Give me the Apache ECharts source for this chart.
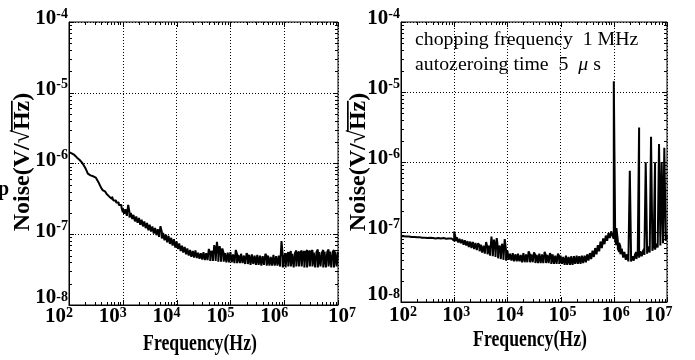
<!DOCTYPE html>
<html><head><meta charset="utf-8">
<script src="https://cdn.jsdelivr.net/npm/echarts@6/dist/echarts.min.js"></script>
<style>html,body{margin:0;padding:0;background:#fff}#c{width:695px;height:360px}</style>
</head><body><div id="c"></div>
<script>
// ---- data ----
// frequency grid: 40 points per decade (mantissas below) for decades 10^2 .. 10^6, plus 10^7
const mantissas = [1.00,1.06,1.12,1.19,1.26,1.33,1.41,1.50,1.58,1.68,1.78,1.88,2.00,2.11,2.24,2.37,2.51,2.66,2.82,2.99,
                   3.16,3.35,3.55,3.76,3.98,4.22,4.47,4.73,5.01,5.31,5.62,5.96,6.31,6.68,7.08,7.50,7.94,8.41,8.91,9.44];
const decades = [2,3,4,5,6];
const lastFreq = 1e7;
// noise envelope (lower / upper edge of the noisy trace) in units of 1e-8 V/sqrt(Hz)
const UNIT = 1e-8;
const leftLow = [
  145,142,139,136,132,126,121,118,112,106,101,95,87,80,72,69,68,67,66,65,
  63,60,54,49,45,42,40,38,37,35,34,32.5,31.5,30,29,28,27,26,25,24,
  20.5,19.5,19.0,18.2,17.8,17.3,16.6,16.4,15.8,15.2,14.8,14.5,14.0,13.6,13.4,12.9,12.4,12.2,11.9,11.4,
  11.1,10.9,10.6,10.2,10.0,9.7,9.4,9.2,8.9,8.7,8.4,8.2,8.0,7.7,7.6,7.3,7.1,6.9,6.7,6.5,
  6.4,6.2,6.0,5.8,5.7,5.5,5.4,5.2,5.1,5.0,4.9,4.8,4.7,4.7,4.6,4.6,4.5,4.5,4.4,4.4,
  4.4,4.3,4.3,4.3,4.2,4.2,4.2,4.2,4.1,4.2,4.1,4.1,4.1,4.1,4.0,4.1,4.0,4.0,4.0,4.0,
  4.0,4.0,3.9,3.9,4.0,3.9,3.9,3.9,3.8,3.9,3.8,3.8,3.9,3.8,3.8,3.7,3.8,3.8,3.7,3.7,
  3.8,3.7,3.7,3.6,3.7,3.7,3.6,3.6,3.7,3.6,3.6,3.6,3.7,3.6,3.5,3.6,3.5,3.5,3.5,3.4,
  3.3,3.4,3.5,3.5,3.4,3.5,3.5,3.4,3.5,3.5,3.4,3.5,3.4,3.5,3.5,3.4,3.5,3.4,3.4,3.5,
  3.4,3.5,3.4,3.4,3.5,3.4,3.4,3.5,3.4,3.4,3.5,3.4,3.4,3.5,3.4,3.4,3.5,3.4,3.4,3.5,
  3.6
];
const leftHigh = [
  145,142,139,136,132,126,121,118,112,106,101,95,87,80,72,69,68,67,66,65,
  63,60,54,49,45,43,42,40,39,37,36,34.5,34,32,31.5,30,29,28,27,26,
  23.5,22.8,22.5,21.8,26.0,20.5,20.0,19.5,18.8,18.5,17.8,17.5,17.0,16.5,16.0,15.8,15.2,14.8,14.4,14.0,
  13.6,13.4,12.9,12.6,12.3,11.9,11.8,11.3,13.0,10.8,10.4,10.2,9.9,9.6,9.5,9.2,8.9,8.7,8.5,8.2,
  7.9,7.6,7.4,7.1,6.9,6.7,6.6,6.4,6.3,6.1,6.0,5.9,5.8,5.7,5.9,5.6,5.5,5.7,5.4,5.5,
  5.6,5.3,5.4,5.2,6.2,5.3,5.8,5.3,7.0,5.4,7.8,5.3,6.8,5.3,6.3,5.4,5.4,5.2,5.5,5.3,
  5.6,5.3,5.2,5.4,6.0,5.2,5.1,5.3,5.3,5.1,5.0,5.2,5.4,5.0,5.1,5.0,5.2,5.0,5.0,4.9,
  5.1,5.0,5.0,4.9,4.9,5.0,5.3,4.9,5.0,4.9,4.8,4.9,5.1,4.9,4.9,4.8,5.0,4.8,8.0,4.8,
  4.8,5.4,5.0,5.6,5.2,5.8,5.3,5.6,5.4,5.9,5.3,5.7,5.5,5.9,5.4,5.8,5.5,6.0,5.5,5.9,
  5.6,6.0,5.5,5.8,5.6,6.1,5.6,5.9,5.5,6.0,5.7,6.0,5.6,6.1,5.7,5.9,5.6,6.0,5.7,5.9,
  5.6
];
const rightLow = [
  8.7,8.5,8.7,8.4,8.6,8.3,8.6,8.4,8.5,8.2,8.5,8.3,8.4,8.2,8.4,8.1,8.3,8.2,8.3,8.1,
  8.2,8.0,8.3,8.0,8.2,7.9,8.1,8.0,8.2,7.8,8.1,7.9,8.2,7.8,8.0,7.7,8.1,7.7,8.1,7.6,
  7.5,7.4,7.3,7.1,7.0,6.9,6.8,6.6,6.5,6.4,6.3,6.1,6.0,5.9,5.8,5.7,5.6,5.5,5.4,5.3,
  5.2,5.1,5.0,4.9,4.9,4.8,4.7,4.6,4.6,4.5,4.4,4.4,4.3,4.2,4.2,4.1,4.1,4.0,3.9,3.9,
  4.0,4.0,3.9,3.9,3.9,3.8,3.8,3.8,3.8,3.8,3.8,3.7,3.8,3.7,3.7,3.7,3.7,3.7,3.7,3.7,
  3.7,3.6,3.7,3.6,3.6,3.6,3.6,3.6,3.6,3.6,3.6,3.6,3.6,3.5,3.6,3.5,3.5,3.5,3.6,3.5,
  3.5,3.5,3.4,3.4,3.5,3.4,3.4,3.4,3.5,3.4,3.4,3.5,3.5,3.5,3.5,3.5,3.6,3.6,3.6,3.7,
  3.8,3.9,4.0,4.1,4.2,4.4,4.6,4.8,5.0,5.3,5.6,5.9,6.3,6.7,7.1,7.5,7.9,8.2,8.5,8.8,
  8.0,7.5,6.5,5.8,5.2,4.8,4.5,4.3,4.1,4.0,3.9,3.8,3.8,3.8,3.8,3.9,4.0,4.1,4.2,4.3,
  4.4,4.5,4.6,4.7,4.8,4.9,5.0,5.1,5.2,5.4,5.5,5.6,5.8,6.0,6.2,6.4,6.6,6.9,7.2,7.5,
  7.8
];
const rightHigh = [
  9.1,8.8,9.2,8.8,9.0,8.7,9.0,8.8,8.9,8.6,8.9,8.7,8.8,8.6,8.8,8.5,8.7,8.6,8.7,8.5,
  8.6,8.4,8.7,8.4,8.6,8.3,8.5,8.4,8.6,8.2,8.5,8.3,8.7,8.2,8.4,8.1,8.5,8.1,8.6,8.1,
  10.2,8.3,8.4,8.0,8.0,7.8,7.8,7.6,7.6,7.4,7.4,7.3,7.3,7.0,7.2,6.8,7.0,6.6,6.9,6.4,
  6.6,6.3,6.4,6.2,7.2,6.0,6.4,6.0,8.6,5.8,7.8,5.7,8.2,5.6,6.4,5.6,6.8,5.5,7.9,5.4,
  5.4,5.1,4.9,5.2,5.0,4.9,4.8,5.0,4.9,4.8,4.7,4.9,5.0,4.7,4.8,4.7,5.3,4.7,4.8,4.6,
  5.1,4.7,4.7,4.6,4.9,4.6,4.8,4.6,5.2,4.6,4.7,4.5,5.0,4.5,4.8,4.5,4.6,4.5,4.9,4.5,
  4.6,4.5,4.4,4.5,4.6,4.4,4.4,4.5,4.5,4.4,4.5,4.4,4.6,4.5,4.5,4.4,4.6,4.5,4.6,4.6,
  4.8,4.9,5.0,5.2,5.4,5.6,5.9,6.2,6.5,6.9,7.3,7.7,8.1,8.5,8.9,9.3,9.6,9.9,10.2,10.4,
  1420,10.0,11.4,7.6,7.0,6.2,5.8,6.0,5.2,5.4,4.8,5.0,75,4.6,4.5,4.8,4.8,5.2,5.2,310,
  5.3,5.6,5.4,5.8,99,5.8,6.2,6.0,230,6.3,6.8,99,6.8,7.2,180,7.4,100,7.9,160,8.4,
  8.8
];
const xTickExp = [2,3,4,5,6,7];
const yTickExp = [-8,-7,-6,-5,-4];
const minorMult = [2,3,4,5,6,7,8,9];
const xTitle = 'Frequency(Hz)';
const yTitleParts = ['Noise(V/', '\u221A', 'Hz', ')'];
const noteLine1 = 'chopping frequency  1 MHz';
const noteLine2 = ['autozeroing time  5  ', '\u03BC', ' s'];

// ---- build ----
const freq = [];
decades.forEach(d => mantissas.forEach(m => freq.push(+(m * Math.pow(10, d)).toPrecision(3))));
freq.push(lastFreq);
// trace drawn as a dense zig-zag between the lower and upper edges at each frequency
function envelopeData(lo, hi) {
  const out = [];
  freq.forEach((f, i) => {
    if (i % 2 === 0) { out.push([f, lo[i] * UNIT]); out.push([f, hi[i] * UNIT]); }
    else { out.push([f, hi[i] * UNIT]); out.push([f, lo[i] * UNIT]); }
  });
  return out;
}
const leftData = envelopeData(leftLow, leftHigh);
const rightData = envelopeData(rightLow, rightHigh);

const FONT = 'Liberation Serif';
const XMIN = Math.pow(10, xTickExp[0]), XMAX = Math.pow(10, xTickExp[xTickExp.length-1]);
const YMIN = Math.pow(10, yTickExp[0]), YMAX = Math.pow(10, yTickExp[yTickExp.length-1]);
const measureCtx = document.createElement('canvas').getContext('2d');
function measure(text, font) { measureCtx.font = font; return measureCtx.measureText(text).width; }
function expOf(v) { return Math.round(Math.log10(v)); }

function xAxisCfg(gi) {
  const isLeft = gi === 0;
  return {
    gridIndex: gi, type: 'log', logBase: 10, min: XMIN, max: XMAX, splitNumber: 5,
    axisLine: { show: true, onZero: false, lineStyle: { color: '#000', width: 1 } },
    axisTick: { show: false },
    splitLine: { show: true, lineStyle: { color: '#000', width: 1, type: [1, 2] } },
    axisLabel: {
      show: true, margin: isLeft ? 1 : 3, align: 'center', color: '#000',
      showMinLabel: true, showMaxLabel: true, hideOverlap: false,
      formatter: v => {
        const e = expOf(v);
        if (isLeft) return e === 7 ? `{spA| }{b|10}{s|${e}}` : `{b|10}{s|${e}}{spB| }`;
        return e === 7 ? `{b|10}{s|${e}}{spC| }` : `{spD| }{b|10}{s|${e}}`;
      },
      rich: {
        b: { fontFamily: FONT, fontWeight: 'bold', fontSize: 21, lineHeight: 21, color: '#000', padding: [1, 0, 0, 0] },
        s: { fontFamily: FONT, fontWeight: 'bold', fontSize: 14, lineHeight: 14, color: '#000', verticalAlign: 'top' },
        spA: { width: 8, fontSize: 10 }, spB: { width: 20, fontSize: 10 },
        spC: { width: 17, fontSize: 10 }, spD: { width: 4, fontSize: 10 }
      }
    }
  };
}
function yAxisCfg(gi) {
  return {
    gridIndex: gi, type: 'log', logBase: 10, min: YMIN, max: YMAX, splitNumber: 4,
    axisLine: { show: true, onZero: false, lineStyle: { color: '#000', width: 1 } },
    axisTick: { show: false },
    splitLine: { show: true, lineStyle: { color: '#000', width: 1, type: [1, 2] } },
    axisLabel: {
      show: true, margin: 1, color: '#000', padding: [0, 0, 9, 0],
      showMinLabel: true, showMaxLabel: true, hideOverlap: false,
      formatter: v => {
        const e = expOf(v);
        return e === -8 ? `{b8|10}{s|${e}}` : `{b|10}{s|${e}}`;
      },
      rich: {
        b: { fontFamily: FONT, fontWeight: 'bold', fontSize: 21, lineHeight: 21, color: '#000', padding: [3, 0, 0, 0] },
        b8: { fontFamily: FONT, fontWeight: 'bold', fontSize: 21, lineHeight: 21, color: '#000', padding: [3, 0, 9, 0] },
        s: { fontFamily: FONT, fontWeight: 'bold', fontSize: 14, lineHeight: 14, color: '#000', verticalAlign: 'top' }
      }
    }
  };
}

function tickSeries(gi) {
  const data = [];
  xTickExp.forEach((e, k) => {
    data.push([Math.pow(10, e), YMIN, 1]);
    if (k < xTickExp.length - 1) minorMult.forEach(m => data.push([m * Math.pow(10, e), YMIN, 0]));
  });
  yTickExp.forEach((e, k) => {
    data.push([XMIN, Math.pow(10, e), 3]);
    if (k < yTickExp.length - 1) minorMult.forEach(m => data.push([XMIN, m * Math.pow(10, e), 2]));
  });
  return {
    type: 'custom', xAxisIndex: gi, yAxisIndex: gi, silent: true, z: 5, clip: false,
    data,
    renderItem: (params, api) => {
      const k = api.value(2);
      const L = (k === 1 || k === 3) ? 5 : 3;
      const style = { stroke: '#000', lineWidth: 1 };
      if (k < 2) {
        const f = api.value(0);
        const a = api.coord([f, YMIN]), b = api.coord([f, YMAX]);
        const x = Math.round(a[0]) + 0.5;
        return { type: 'group', children: [
          { type: 'line', shape: { x1: x, y1: a[1], x2: x, y2: a[1] - L }, style },
          { type: 'line', shape: { x1: x, y1: b[1], x2: x, y2: b[1] + L }, style }
        ]};
      } else {
        const v = api.value(1);
        const a = api.coord([XMIN, v]), b = api.coord([XMAX, v]);
        const y = Math.round(a[1]) + 0.5;
        return { type: 'group', children: [
          { type: 'line', shape: { x1: a[0], y1: y, x2: a[0] + L, y2: y }, style },
          { type: 'line', shape: { x1: b[0], y1: y, x2: b[0] - L, y2: y }, style }
        ]};
      }
    }
  };
}

// y-axis title with a radical sign and its overbar
function yTitle(cx, cy) {
  const size = 24;
  const font = `bold ${size}px "${FONT}"`;
  const widths = yTitleParts.map(p => measure(p, font));
  const total = widths.reduce((a, b) => a + b, 0);
  let x = -total / 2;
  const children = [];
  const starts = [];
  yTitleParts.forEach((p, i) => {
    starts.push(x);
    children.push({ type: 'text', x: x, y: 0, style: { text: p, font: font, fill: '#000', align: 'left', verticalAlign: 'middle' } });
    x += widths[i];
  });
  children.push({ type: 'rect', shape: { x: starts[1] + widths[1] - 2, y: -12, width: widths[2] + 2, height: 1.7 }, style: { fill: '#000' } });
  return { type: 'group', x: cx, y: cy, rotation: Math.PI / 2, children };
}

// second annotation line: plain text, italic mu, plain text
function noteLine2Items(x0, y, sx) {
  const fonts = [`18px "${FONT}"`, `italic 18px "${FONT}"`, `18px "${FONT}"`];
  const items = [];
  let x = x0;
  noteLine2.forEach((t, i) => {
    items.push({ type: 'text', x: x, y: y, scaleX: sx, style: { text: t, font: fonts[i], fill: '#000', align: 'left', verticalAlign: 'middle' } });
    x += measure(t, fonts[i]) * sx;
  });
  return items;
}

const option = {
  backgroundColor: '#fff',
  animation: false,
  grid: [
    { left: 69, top: 22, width: 269, height: 283, show: true, borderColor: '#000', borderWidth: 1, backgroundColor: 'transparent' },
    { left: 401, top: 22, width: 266, height: 280, show: true, borderColor: '#000', borderWidth: 1, backgroundColor: 'transparent' }
  ],
  xAxis: [xAxisCfg(0), xAxisCfg(1)],
  yAxis: [yAxisCfg(0), yAxisCfg(1)],
  series: [
    { name: 'left', type: 'line', xAxisIndex: 0, yAxisIndex: 0, data: leftData, showSymbol: false, symbol: 'none',
      lineStyle: { color: '#000', width: 2 }, z: 3 },
    { name: 'right', type: 'line', xAxisIndex: 1, yAxisIndex: 1, data: rightData, showSymbol: false, symbol: 'none',
      lineStyle: { color: '#000', width: 2 }, z: 3 },
    tickSeries(0), tickSeries(1)
  ],
  graphic: [
    yTitle(23, 162),
    yTitle(359, 162),
    { type: 'text', x: 200, y: 344, scaleX: 0.77, style: { text: xTitle, font: `bold 23px "${FONT}"`, fill: '#000', align: 'center', verticalAlign: 'middle' } },
    { type: 'text', x: 530, y: 340, scaleX: 0.77, style: { text: xTitle, font: `bold 23px "${FONT}"`, fill: '#000', align: 'center', verticalAlign: 'middle' } },
    { type: 'text', x: -2, y: 190, style: { text: 'p', font: `bold 20px "${FONT}"`, fill: '#000', align: 'left', verticalAlign: 'middle' } },
    { type: 'text', x: 415, y: 40.5, scaleX: 1.1, style: { text: noteLine1, font: `18px "${FONT}"`, fill: '#000', align: 'left', verticalAlign: 'middle' } }
  ].concat(noteLine2Items(415, 65.5, 1.1))
};
const chart = echarts.init(document.getElementById('c'), null, { renderer: 'canvas' });
chart.setOption(option);
</script>
</body></html>
